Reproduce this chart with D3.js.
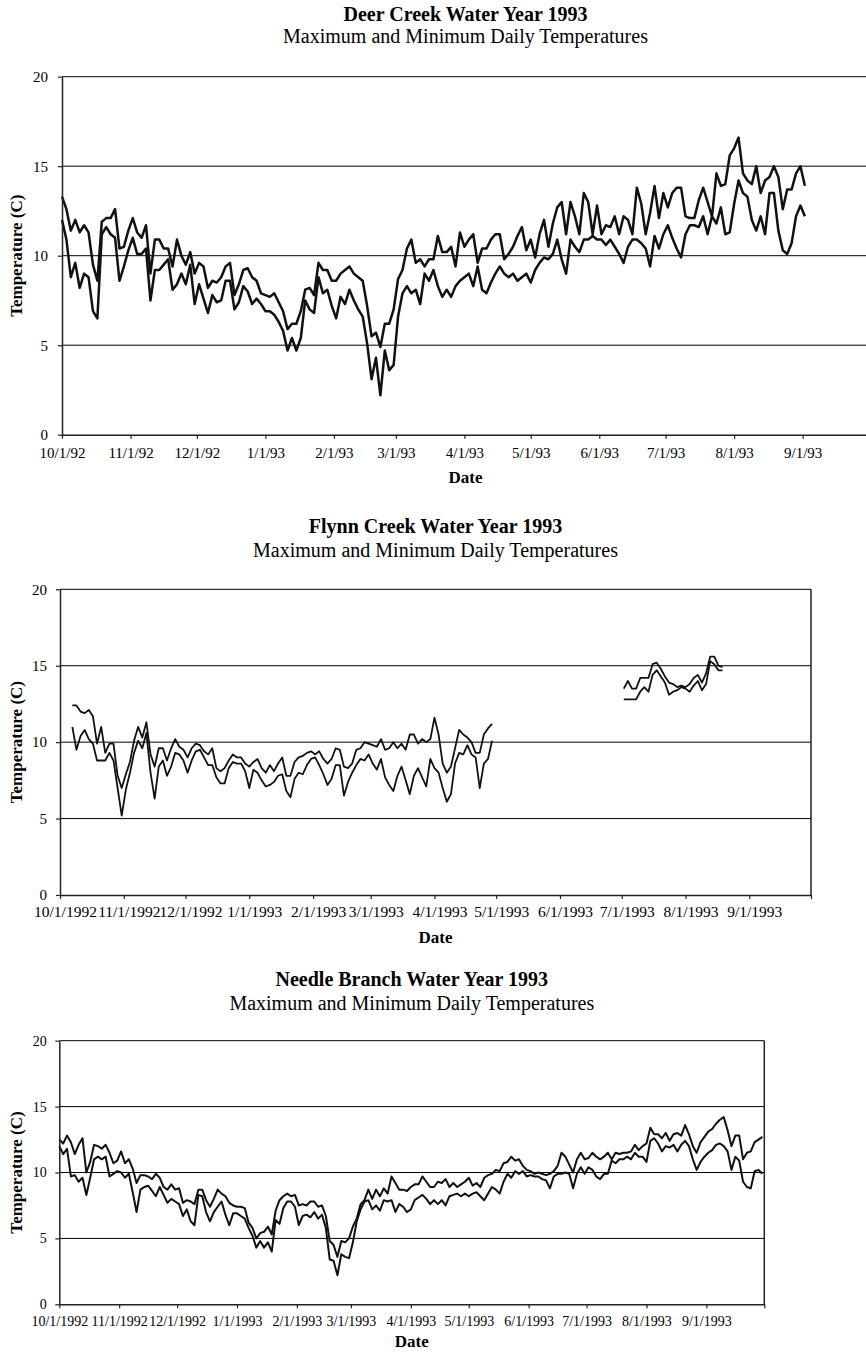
<!DOCTYPE html>
<html>
<head>
<meta charset="utf-8">
<script src="https://cdn.jsdelivr.net/npm/d3@7"></script>
<style>
  html, body { margin: 0; padding: 0; background: #fff; }
  svg { display: block; }
  svg text { font-family: "Liberation Serif", "Times New Roman", Times, serif !important; }
</style>
</head>
<body>
<svg id="chart" width="866" height="1360"></svg>
<script>
// ---------------------------------------------------------------
// Daily maximum / minimum stream temperatures (deg C), water year 1993.
// Values are listed every second day from each series' start date.
// ---------------------------------------------------------------
const stepDays = 2;
const yTicks = [0, 5, 10, 15, 20];

// Deer Creek, from 10/1/1992
const deerStart = "1992-10-01";
const deerMax = [
  13.3,12.6,11.4,12.0,11.3,11.7,11.3,9.5,8.6,11.9,
  12.1,12.1,12.6,10.4,10.5,11.4,12.1,11.3,11.0,11.7,
  9.0,10.9,10.9,10.4,10.4,9.4,10.9,10.0,9.5,10.2,
  9.0,9.6,9.4,8.2,8.6,8.5,8.8,9.4,9.6,7.8,
  8.4,9.2,9.3,8.8,8.6,7.9,7.8,7.7,7.9,7.4,
  6.9,5.9,6.2,6.2,6.9,8.1,8.2,7.8,9.6,9.2,
  9.2,8.6,8.6,9.0,9.2,9.4,9.0,8.8,8.6,7.2,
  5.5,5.7,4.9,6.2,6.2,7.0,8.7,9.2,10.4,10.9,
  9.6,9.8,9.4,9.8,9.8,11.1,10.2,10.2,10.5,9.4,
  11.3,10.5,10.9,11.2,9.6,10.4,10.4,10.9,11.2,11.2,
  9.8,10.1,10.5,11.1,11.6,10.3,10.9,9.9,11.2,12.0,
  10.5,11.8,12.7,13.0,11.2,13.0,12.2,11.2,13.5,13.0,
  11.2,12.8,11.2,11.7,11.6,12.2,11.2,12.2,12.0,11.2,
  13.8,12.9,11.2,12.4,13.9,12.1,13.5,12.7,13.5,13.8,
  13.8,12.2,12.1,12.1,13.1,13.8,13.0,12.2,14.6,13.9,
  14.0,15.6,16.0,16.6,14.6,14.2,14.0,15.0,13.5,14.2,
  14.4,15.0,14.4,12.6,13.7,13.7,14.6,15.0,13.9
];
const deerMin = [
  12.0,10.9,8.8,9.6,8.2,9.0,8.8,6.9,6.5,11.2,
  11.6,11.2,11.0,8.6,9.4,10.3,11.0,10.1,10.1,10.4,
  7.5,9.2,9.2,9.5,9.8,8.1,8.4,9.0,8.4,9.5,
  7.3,8.4,7.6,6.8,7.8,7.4,7.5,8.6,8.6,7.0,
  7.4,8.3,8.0,7.3,7.6,7.3,6.9,6.9,6.7,6.3,
  5.8,4.7,5.4,4.7,5.4,7.5,7.0,6.8,8.8,7.9,
  8.1,7.2,6.5,7.7,7.3,8.1,7.5,7.0,6.6,5.1,
  3.1,4.3,2.2,4.7,3.6,3.9,6.6,7.9,8.3,7.9,
  8.1,7.3,9.0,8.6,9.2,8.3,7.7,8.1,7.7,8.3,
  8.6,8.8,9.0,8.3,9.4,8.1,7.9,8.5,9.0,9.4,
  9.0,8.8,9.0,8.6,8.8,9.0,8.5,9.2,9.6,9.9,
  9.8,10.1,10.9,9.8,9.0,10.9,10.5,10.2,10.9,10.9,
  11.1,10.9,10.9,10.6,10.9,10.5,10.1,9.6,10.5,10.9,
  10.9,10.7,10.4,9.4,11.1,10.4,11.2,11.7,11.0,10.4,
  9.9,11.2,11.7,11.7,11.6,12.2,11.2,12.2,11.8,12.7,
  11.2,11.3,12.9,14.2,13.5,13.3,12.0,11.4,12.2,11.2,
  13.5,13.5,11.4,10.3,10.1,10.7,12.2,12.8,12.2
];
const deerTickLabels = ["10/1/92","11/1/92","12/1/92","1/1/93","2/1/93","3/1/93",
  "4/1/93","5/1/93","6/1/93","7/1/93","8/1/93","9/1/93",""];

// Flynn Creek: record from 10/7/1992 to 4/30/1993, then 7/2/1993 to 8/19/1993
const flynnSpringStart = "1992-10-07";
const flynnSpringMax = [
  12.4,12.4,12.0,11.9,12.1,11.7,9.9,11.0,9.3,9.9,
  9.9,7.8,7.0,7.9,8.7,10.1,11.0,10.3,11.3,9.2,
  8.4,9.6,9.6,8.8,9.6,10.2,9.7,9.5,9.0,9.6,
  9.9,9.8,9.4,9.2,9.6,8.3,8.1,8.3,8.8,9.2,
  9.0,9.0,8.6,8.4,8.7,8.9,8.3,8.0,8.5,8.1,
  8.6,9.0,7.8,7.8,8.7,9.0,9.1,9.3,9.4,9.2,
  9.4,8.9,8.6,8.9,9.6,9.5,8.4,8.3,8.6,9.5,
  9.6,10.0,9.9,9.8,9.7,10.2,9.5,9.6,10.0,9.6,
  9.9,9.5,10.5,10.5,9.9,10.2,10.0,10.2,11.6,10.5,
  8.6,8.0,8.4,9.6,10.8,10.5,10.3,10.0,9.3,9.3,
  10.5,10.9,11.2
];
const flynnSpringMin = [
  11.0,9.5,10.4,10.8,10.2,9.9,8.8,8.8,8.8,9.3,
  8.8,7.0,5.2,6.9,8.0,9.3,10.1,9.6,10.6,8.0,
  6.3,8.4,8.8,7.8,8.4,9.3,9.2,8.8,8.0,8.8,
  9.4,9.5,9.0,8.5,8.5,7.7,7.3,7.3,8.3,8.7,
  8.6,8.6,8.1,7.0,8.2,8.0,7.5,7.1,7.2,7.4,
  7.8,7.9,6.8,6.4,7.6,8.0,7.9,8.5,8.9,9.0,
  8.5,7.9,7.2,7.6,8.5,8.5,6.5,7.4,8.0,8.5,
  8.9,8.8,9.2,8.6,8.2,8.9,7.7,7.2,6.8,7.8,
  8.4,7.5,6.6,7.8,8.3,7.7,7.1,8.9,8.3,8.0,
  7.0,6.1,6.6,8.6,9.3,9.2,9.8,9.2,9.0,7.0,
  8.6,8.9,10.1
];
const flynnSummerStart = "1993-07-02";
const flynnSummerMax = [
  13.5,14.0,13.5,13.5,14.2,14.2,14.2,15.1,15.2,14.8,
  14.3,13.9,13.8,13.6,13.7,13.6,13.8,14.2,14.4,13.9,
  14.5,15.6,15.6,15.0,14.9
];
const flynnSummerMin = [
  12.8,12.8,12.8,12.8,13.3,13.6,13.3,14.4,14.7,14.3,
  13.9,13.1,13.3,13.4,13.6,13.5,13.3,13.7,14.0,13.4,
  13.8,15.3,15.1,14.7,14.7
];
const flynnTickLabels = ["10/1/1992","11/1/1992","12/1/1992","1/1/1993","2/1/1993","3/1/1993",
  "4/1/1993","5/1/1993","6/1/1993","7/1/1993","8/1/1993","9/1/1993",""];

// Needle Branch, from 10/1/1992
const needleStart = "1992-10-01";
const needleMax = [
  12.5,12.2,12.8,12.3,11.4,12.1,12.6,10.0,10.8,12.1,
  12.0,11.8,12.1,11.5,10.7,10.9,11.6,10.7,11.0,10.3,
  9.2,9.8,9.8,9.7,9.5,9.9,9.6,8.9,8.7,9.1,
  8.7,8.8,7.7,7.9,7.8,7.6,8.7,8.7,7.9,7.4,
  8.0,8.7,8.4,8.2,7.7,7.5,7.4,7.4,7.3,6.2,
  5.8,5.0,5.4,5.5,5.9,5.3,7.1,7.9,8.2,8.4,
  8.2,8.3,7.5,7.6,7.5,7.8,7.8,7.4,7.5,6.7,
  4.8,4.5,3.6,4.8,4.7,5.0,5.9,6.5,7.6,7.9,
  8.7,8.0,8.7,8.2,8.8,8.4,9.7,9.2,8.7,8.7,
  8.6,8.9,9.1,9.1,9.7,9.3,8.9,8.9,9.3,9.2,
  9.5,8.9,9.2,8.9,9.1,9.3,9.6,9.0,9.2,8.9,
  9.6,9.8,9.9,10.2,10.1,10.7,10.8,11.2,10.9,11.0,
  10.5,10.2,10.1,9.9,10.0,9.9,9.8,9.9,10.1,10.5,
  11.5,11.2,10.6,10.0,11.0,11.5,11.0,11.1,11.5,11.2,
  11.0,11.2,11.5,11.0,11.5,11.4,11.5,11.5,11.6,12.1,
  11.7,12.0,12.2,13.4,12.9,12.9,12.6,13.0,12.4,12.9,
  13.0,12.8,13.6,12.9,12.0,11.5,12.3,12.7,13.1,13.3,
  13.7,14.0,14.2,13.2,12.0,12.8,12.8,11.0,11.5,11.6,
  12.3,12.5,12.7
];
const needleMin = [
  12.0,11.4,11.8,9.7,9.8,9.3,9.6,8.3,9.6,11.0,
  11.2,11.0,11.2,9.7,9.9,10.1,10.0,9.6,9.9,8.5,
  7.0,8.7,8.9,9.0,8.6,8.2,8.9,8.3,7.7,8.0,
  7.8,7.6,6.7,7.2,6.3,6.0,8.3,8.2,7.0,6.3,
  7.0,7.4,7.8,6.8,6.0,6.9,6.9,6.7,6.5,5.8,
  5.2,4.3,4.8,4.3,4.7,4.0,6.4,6.1,7.3,7.8,
  7.8,7.4,6.0,6.7,6.8,6.6,7.0,6.5,6.8,5.8,
  3.4,3.3,2.2,3.8,3.6,3.5,4.7,6.3,7.2,7.8,
  7.9,7.2,7.5,7.1,7.9,7.8,7.9,7.0,7.6,7.4,
  7.0,7.2,7.9,8.1,8.3,8.0,7.6,7.9,7.6,7.9,
  7.5,8.2,8.3,8.4,8.2,8.4,8.2,8.4,8.5,8.2,
  7.9,8.4,8.9,8.7,8.4,9.3,9.9,9.6,10.1,9.9,
  10.1,9.7,9.8,9.7,9.7,9.5,9.4,8.8,9.7,9.9,
  9.9,10.0,9.9,8.8,9.9,10.4,9.9,10.4,10.2,9.7,
  9.5,9.9,9.9,10.9,10.7,11.0,11.0,11.2,11.0,11.5,
  11.2,11.2,10.8,12.4,12.6,12.2,11.6,12.0,11.9,12.1,
  11.6,12.1,12.4,12.0,11.0,10.2,10.8,11.2,11.5,11.7,
  12.1,12.2,12.0,11.6,10.2,11.2,10.9,9.3,8.9,8.8,
  10.1,10.2,9.9
];
const needleTickLabels = flynnTickLabels;

// ---------------------------------------------------------------
// Panel layout
// ---------------------------------------------------------------
const parse = d3.utcParse("%Y-%m-%d");
const yearStart = parse("1992-10-01");
const yearEnd = parse("1993-10-01");
const monthTicks = d3.utcMonth.range(yearStart, d3.utcDay.offset(yearEnd, 1));
const serif = '"Liberation Serif", "Times New Roman", Times, serif';

const panels = [
  {
    title: "Deer Creek Water Year 1993",
    left: 62, right: 869, top: 76.7, bottom: 434.7,
    titleY: 21, subY: 43, dateY: 483, yTitleX: 22,
    xFont: 15, xPad: 8.5, xShift: 0, yFont: 15, yPad: 10,
    lineWidth: 2.5, rightBorder: false,
    tickLabels: deerTickLabels,
    series: [
      { start: deerStart, max: deerMax, min: deerMin }
    ]
  },
  {
    title: "Flynn Creek Water Year 1993",
    left: 60, right: 811, top: 589.3, bottom: 895,
    titleY: 533, subY: 557, dateY: 943, yTitleX: 22,
    xFont: 15.5, xPad: 7, xShift: 5, yFont: 15, yPad: 9,
    lineWidth: 1.8, rightBorder: true,
    tickLabels: flynnTickLabels,
    series: [
      { start: flynnSpringStart, max: flynnSpringMax, min: flynnSpringMin },
      { start: flynnSummerStart, max: flynnSummerMax, min: flynnSummerMin }
    ]
  },
  {
    title: "Needle Branch Water Year 1993",
    left: 59.3, right: 764.3, top: 1040.7, bottom: 1304.3,
    titleY: 986, subY: 1010, dateY: 1347, yTitleX: 22,
    xFont: 14, xPad: 8, xShift: 0, yFont: 14, yPad: 8.5,
    lineWidth: 2, rightBorder: true,
    tickLabels: needleTickLabels,
    series: [
      { start: needleStart, max: needleMax, min: needleMin }
    ]
  }
];

const svg = d3.select("#chart");
svg.append("rect").attr("width", 866).attr("height", 1360).attr("fill", "#fff");

panels.forEach(p => {
  const g = svg.append("g");
  const x = d3.scaleUtc().domain([yearStart, yearEnd]).range([p.left, p.right]);
  const y = d3.scaleLinear().domain([0, 20]).range([p.bottom, p.top]);
  const cx = (p.left + p.right) / 2;

  // titles
  g.append("text").attr("x", cx).attr("y", p.titleY)
    .attr("text-anchor", "middle").attr("font-size", 20).attr("font-weight", "bold")
    .attr("fill", "#000").text(p.title);
  g.append("text").attr("x", cx).attr("y", p.subY)
    .attr("text-anchor", "middle").attr("font-size", 20)
    .attr("fill", "#000").text("Maximum and Minimum Daily Temperatures");

  // horizontal gridlines (the 20 line closes the top of the plot)
  g.append("g").selectAll("line")
    .data(yTicks.filter(v => v > 0))
    .join("line")
    .attr("x1", p.left).attr("x2", p.right)
    .attr("y1", d => y(d)).attr("y2", d => y(d))
    .attr("stroke", "#000").attr("stroke-width", 1);

  if (p.rightBorder) {
    g.append("line")
      .attr("x1", p.right).attr("x2", p.right)
      .attr("y1", y(20)).attr("y2", y(0))
      .attr("stroke", "#222").attr("stroke-width", 1.5);
  }

  // temperature traces
  const line = d3.line()
    .x(d => x(d.date))
    .y(d => y(d.v));
  p.series.forEach(s => {
    const t0 = parse(s.start);
    [s.max, s.min].forEach(vals => {
      const pts = vals.map((v, i) => ({ date: d3.utcDay.offset(t0, i * stepDays), v }));
      g.append("path").datum(pts)
        .attr("fill", "none").attr("stroke", "#111")
        .attr("stroke-width", p.lineWidth)
        .attr("stroke-linejoin", "round")
        .attr("d", line);
    });
  });

  // y axis
  const yAxis = g.append("g").attr("transform", `translate(${p.left},0)`)
    .call(d3.axisLeft(y).tickValues(yTicks).tickSize(4).tickSizeOuter(0).tickPadding(p.yPad));
  yAxis.attr("font-family", null);
  yAxis.select(".domain").attr("stroke", "#222").attr("stroke-width", 1.5);
  yAxis.selectAll(".tick line").attr("stroke", "#222").attr("stroke-width", 1.2);
  yAxis.selectAll("text").style("font-size", p.yFont + "px").attr("fill", "#000")
    .style("font-family", serif);

  // x axis
  const xAxis = g.append("g").attr("transform", `translate(0,${p.bottom})`)
    .call(d3.axisBottom(x).tickValues(monthTicks)
      .tickFormat((d, i) => p.tickLabels[i])
      .tickSize(4).tickSizeOuter(0).tickPadding(p.xPad));
  xAxis.attr("font-family", null);
  xAxis.select(".domain").attr("stroke", "#222").attr("stroke-width", 1.5);
  xAxis.selectAll(".tick line").attr("stroke", "#222").attr("stroke-width", 1.2);
  xAxis.selectAll("text").style("font-size", p.xFont + "px").attr("fill", "#000")
    .attr("dx", p.xShift)
    .style("font-family", serif);

  // axis titles
  g.append("text")
    .attr("transform", `translate(${p.yTitleX},${(p.top + p.bottom) / 2}) rotate(-90)`)
    .attr("text-anchor", "middle").attr("font-size", 17).attr("font-weight", "bold")
    .attr("fill", "#000").text("Temperature (C)");
  g.append("text").attr("x", cx).attr("y", p.dateY)
    .attr("text-anchor", "middle").attr("font-size", 17).attr("font-weight", "bold")
    .attr("fill", "#000").text("Date");
});
</script>
</body>
</html>
